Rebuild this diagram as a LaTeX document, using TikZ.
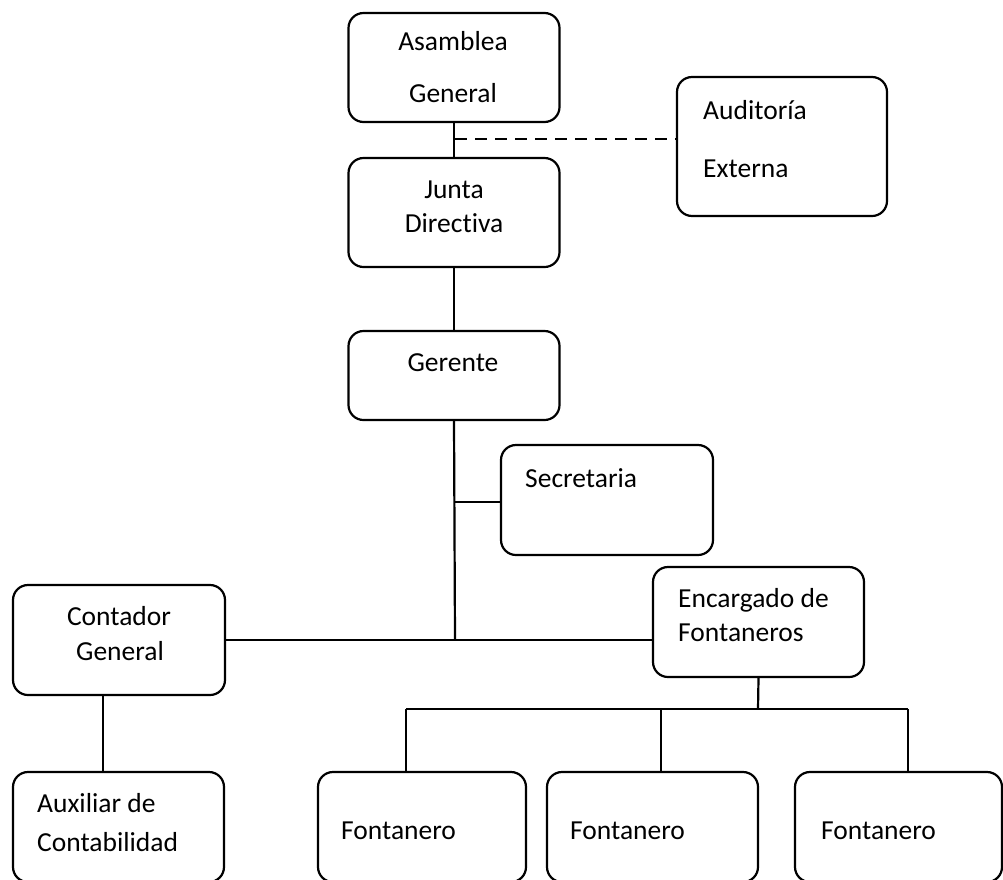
\documentclass[tikz,border=0pt]{standalone}
\usepackage{fontspec}
\setmainfont[Ligatures=NoCommon]{Carlito}
\begin{document}
\begin{tikzpicture}[x=1pt,y=-1pt,
  orgbox/.style={draw=black,line width=2.2pt,rounded corners=15pt,inner sep=0pt,minimum width=#1},
  orgbox/.default=211pt,
  lbl/.style={inner sep=0pt,font=\fontsize{27.5}{33}\selectfont},
  link/.style={line width=2.2pt},
  dashlink/.style={line width=2.4pt,dash pattern=on 12pt off 8pt}]
\useasboundingbox[fill=white] (0,0) rectangle (1003,879);

% boxes
\node[orgbox, minimum height=109pt] (asamblea)   at (454,67.5)  {};
\node[orgbox=210pt, minimum height=139pt] (auditoria) at (782,146.5) {};
\node[orgbox, minimum height=109pt] (junta)      at (454,212.5) {};
\node[orgbox, minimum height=89pt]  (gerente)    at (454,375.5) {};
\node[orgbox=212pt, minimum height=110pt] (secretaria) at (607,500) {};
\node[orgbox=212pt, minimum height=110pt] (contador)   at (119,640) {};
\node[orgbox, minimum height=110pt] (encargado)  at (758.5,622) {};
\node[orgbox, minimum height=110pt] (auxiliar)   at (118.5,827) {};
\node[orgbox=208pt, minimum height=110pt] (fontA) at (422,827) {};
\node[orgbox, minimum height=110pt] (fontB)      at (652.5,827) {};
\node[orgbox=207pt, minimum height=110pt] (fontC) at (898.5,827) {};

% labels
\node[lbl, anchor=base] (tAsam) at (453,50)  {Asamblea};
\node[lbl, anchor=base] (tGen1) at (453,102) {General};
\node[lbl, anchor=base west] (tAud) at (703,119) {Auditoría};
\node[lbl, anchor=base west] (tExt) at (703,177) {Externa};
\node[lbl, anchor=base] (tJun) at (454,198) {Junta};
\node[lbl, anchor=base] (tDir) at (454,232) {Directiva};
\node[lbl, anchor=base] (tGer) at (453,371) {Gerente};
\node[lbl, anchor=base west] (tSec) at (525,487) {Secretaria};
\node[lbl, anchor=base] (tCon) at (119,625) {Contador};
\node[lbl, anchor=base] (tGen2) at (120,660) {General};
\node[lbl, anchor=base west] (tEnc) at (678,607) {Encargado de};
\node[lbl, anchor=base west] (tFon) at (678,641) {Fontaneros};
\node[lbl, anchor=base west] (tAux) at (37,812) {Auxiliar de};
\node[lbl, anchor=base west] (tCtb) at (37,851) {Contabilidad};
\node[lbl, anchor=base west] (tFA) at (341,839) {Fontanero};
\node[lbl, anchor=base west] (tFB) at (570,839) {Fontanero};
\node[lbl, anchor=base west] (tFC) at (821,839) {Fontanero};

% junction points
\coordinate (audJoin) at (455,139);
\coordinate (mainJoin) at (455,640);
\coordinate (secJoin) at (455,502);
\coordinate (auxTop) at (103,695);
\coordinate (bus) at (758,709);
\coordinate (busL) at (406,709);
\coordinate (busM) at (661,709);
\coordinate (busR) at (908,709);

% connectors
\draw[link] (asamblea.south) -- (junta.north);
\draw[dashlink] (audJoin) -- (audJoin -| auditoria.west);
\draw[link] (junta.south) -- (gerente.north);
\draw[link] (gerente.south) -- (mainJoin);
\draw[link] (secJoin) -- (secJoin -| secretaria.west);
\draw[link] (mainJoin -| contador.east) -- (mainJoin -| encargado.west);
\draw[link] (auxTop) -- (auxTop |- auxiliar.north);
\draw[link] (encargado.south) -- (bus);
\draw[link] (busL) -- (busR);
\draw[link] (busL) -- (busL |- fontA.north);
\draw[link] (busM) -- (busM |- fontB.north);
\draw[link] (busR) -- (busR |- fontC.north);
\end{tikzpicture}
\end{document}
